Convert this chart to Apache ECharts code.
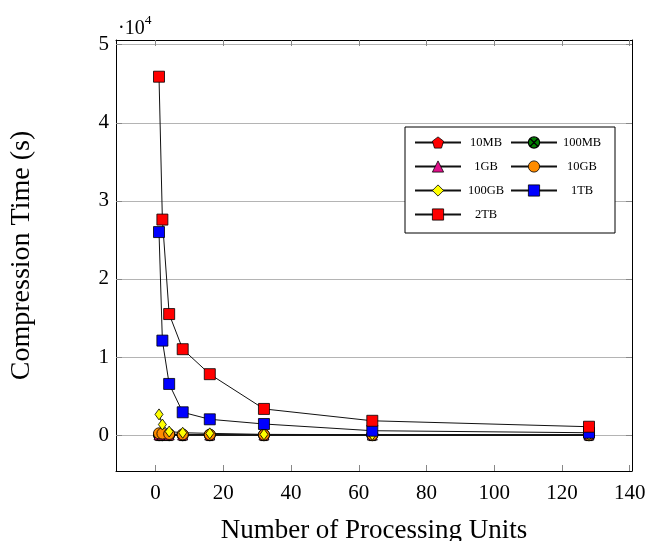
<!DOCTYPE html>
<html>
<head>
<meta charset="utf-8">
<script src="https://cdn.jsdelivr.net/npm/echarts@6/dist/echarts.min.js"></script>
<style>html,body{margin:0;padding:0;background:#fff}#c{width:652px;height:541px}</style>
</head>
<body>
<div id="c"></div>
<script>
// Data
const units = [1, 2, 4, 8, 16, 32, 64, 128];
const s10MB  = [1.2, 0.9, 0.7, 0.6, 0.5, 0.4, 0.3, 0.3];
const s100MB = [5, 4, 3, 2, 2, 1, 1, 1];
const s1GB   = [30, 20, 15, 10, 8, 6, 4, 3];
const s10GB  = [230, 200, 140, 90, 60, 40, 25, 15];
const s100GB = [2650, 1350, 450, 300, 220, 90, 50, 20];
const s1TB   = [26000, 12100, 6550, 2920, 2020, 1420, 560, 300];
const s2TB   = [45900, 27600, 15500, 11000, 7800, 3350, 1830, 1070];
const xTicks = [0, 20, 40, 60, 80, 100, 120, 140];
const yTicks = [0, 10000, 20000, 30000, 40000, 50000];

const serif = 'Liberation Serif';
const pentagon = 'path://M0,-10 L9.51,-3.09 L5.88,8.09 L-5.88,8.09 L-9.51,-3.09 Z';
const otimes = 'path://M0,-10 A10,10 0 1,1 0,10 A10,10 0 1,1 0,-10 Z M-7.07,-7.07 L7.07,7.07 M7.07,-7.07 L-7.07,7.07';

function mk(name, vals, symbol, size, color, bw) {
  return {
    name: name, type: 'line',
    data: units.map((u, i) => [u, vals[i]]),
    symbol: symbol, symbolSize: size,
    showAllSymbol: true,
    lineStyle: { color: '#111', width: 1 },
    itemStyle: { color: color, borderColor: '#000', borderWidth: bw || 0.8 },
    emphasis: { disabled: true },
    animation: false
  };
}

const series = [
  mk('10MB', s10MB, pentagon, 11, '#ff0000'),
  mk('100MB', s100MB, otimes, 11, '#008000', 1.2),
  mk('1GB', s1GB, 'triangle', 10, '#e0108a'),
  mk('10GB', s10GB, 'circle', 11, '#ff8c00'),
  mk('100GB', s100GB, 'diamond', [8, 11], '#ffff00'),
  mk('1TB', s1TB, 'rect', 11, '#0000ff'),
  mk('2TB', s2TB, 'rect', 11, '#ff0000')
];

const legendCommon = {
  orient: 'vertical', padding: 0, itemWidth: 46, itemHeight: 14, itemGap: 11,
  z: 5,
  itemStyle: { borderColor: '#000' },
  formatter: '{a|{name}}',
  textStyle: {
    fontFamily: serif, fontSize: 12.5, color: '#000',
    rich: { a: { width: 40, align: 'center', fontFamily: serif, fontSize: 12.5, color: '#000' } }
  }
};

const chart = echarts.init(document.getElementById('c'));
chart.setOption({
  animation: false,
  backgroundColor: '#fff',
  title: {
    text: '{a|·10}{b|4}', left: 113, top: 8,
    textStyle: {
      fontWeight: 'normal',
      rich: {
        a: { fontFamily: serif, fontSize: 20, fontWeight: 'normal', color: '#000', lineHeight: 26, verticalAlign: 'bottom' },
        b: { fontFamily: serif, fontSize: 13.5, fontWeight: 'normal', color: '#000', lineHeight: 26, verticalAlign: 'top' }
      }
    }
  },
  grid: { left: 116, right: 20, top: 40, bottom: 70, containLabel: false, outerBoundsMode: 'none' },
  graphic: [{
    type: 'rect', z: 3,
    shape: { x: 405, y: 127, width: 210, height: 106 },
    style: { fill: '#fff', stroke: '#000', lineWidth: 1 }
  }],
  legend: [
    Object.assign({}, legendCommon, { left: 414, top: 136, data: [
      { name: '10MB', itemStyle: { borderWidth: 0.8 } },
      { name: '1GB', itemStyle: { borderWidth: 0.8 } },
      { name: '100GB', itemStyle: { borderWidth: 0.8 } },
      { name: '2TB', itemStyle: { borderWidth: 0.8 } }] }),
    Object.assign({}, legendCommon, { left: 510, top: 136, data: [
      { name: '100MB', itemStyle: { borderWidth: 1.2 } },
      { name: '10GB', itemStyle: { borderWidth: 0.8 } },
      { name: '1TB', itemStyle: { borderWidth: 0.8 } }] })
  ],
  xAxis: [{
    type: 'value', min: -11.7, max: 140.7,
    name: 'Number of Processing Units', nameLocation: 'middle', nameGap: 46,
    nameTextStyle: { fontFamily: serif, fontSize: 27, color: '#000' },
    axisLine: { show: true, onZero: false, lineStyle: { color: '#000', width: 1 } },
    axisTick: { show: true, inside: true, length: 6, customValues: xTicks, lineStyle: { color: '#888' } },
    axisLabel: { customValues: xTicks, fontFamily: serif, fontSize: 21, color: '#000', margin: 12 },
    splitLine: { show: false }
  }, {
    type: 'value', position: 'top', min: -11.7, max: 140.7,
    axisLine: { show: true, onZero: false, lineStyle: { color: '#000', width: 1 } },
    axisTick: { show: true, inside: true, length: 6, customValues: xTicks, lineStyle: { color: '#888' } },
    axisLabel: { show: false },
    splitLine: { show: false }
  }],
  yAxis: [{
    type: 'value', min: -4600, max: 50600,
    name: 'Compression Time (s)', nameLocation: 'middle', nameGap: 80,
    nameTextStyle: { fontFamily: serif, fontSize: 28, color: '#000' },
    axisLine: { show: true, onZero: false, lineStyle: { color: '#000', width: 1 } },
    axisTick: { show: true, inside: true, length: 6, customValues: yTicks, lineStyle: { color: '#888' } },
    axisLabel: { customValues: yTicks, fontFamily: serif, fontSize: 21, color: '#000', margin: 7,
      formatter: v => String(Math.round(v / 10000)) },
    splitLine: { show: true, lineStyle: { color: '#b4b4b4', width: 1 } }
  }, {
    type: 'value', position: 'right', min: -4600, max: 50600,
    axisLine: { show: true, onZero: false, lineStyle: { color: '#000', width: 1 } },
    axisTick: { show: true, inside: true, length: 6, customValues: yTicks, lineStyle: { color: '#888' } },
    axisLabel: { show: false },
    splitLine: { show: false }
  }],
  series: series
});
</script>
</body>
</html>
